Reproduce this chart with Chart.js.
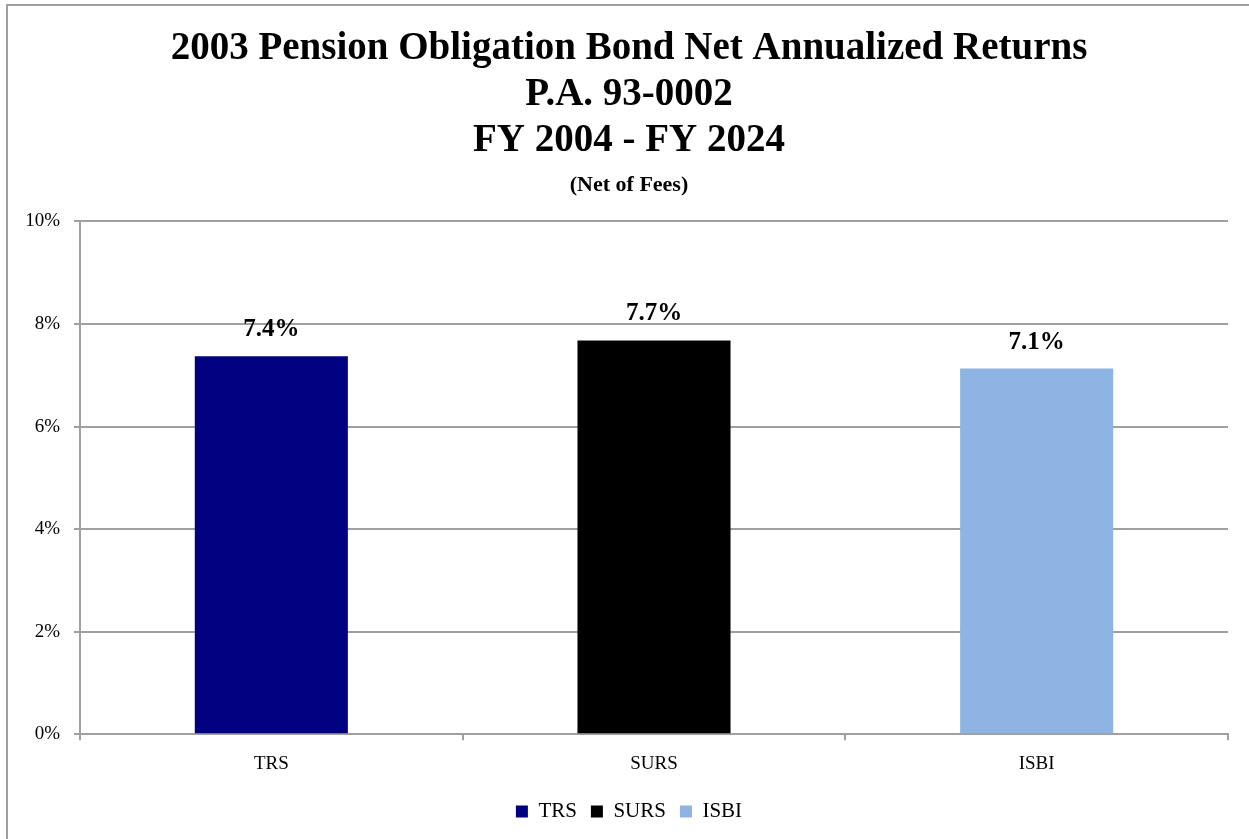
<!DOCTYPE html>
<html>
<head>
<meta charset="utf-8">
<script src="https://cdn.jsdelivr.net/npm/chart.js@4.4.1/dist/chart.umd.min.js"></script>
<style>
  html, body { margin: 0; padding: 0; background: #fff; overflow: hidden; }
  #frame { position: absolute; left: 6px; top: 4px; width: 1300px; height: 900px; border: 2px solid #a0a0a0; }
  #wrap { position: absolute; left: 0; top: 0; width: 1249px; height: 839px; }
</style>
</head>
<body>
<div id="frame"></div>
<div id="wrap"><canvas id="pobChart"></canvas></div>
<script>
const categories = ["TRS", "SURS", "ISBI"];
const returnsPct = [7.37, 7.68, 7.13];
const valueLabels = ["7.4%", "7.7%", "7.1%"];
const barColors = ["#000080", "#000000", "#8db4e2"];
const titleLines = [
  "2003 Pension Obligation Bond Net Annualized Returns",
  "P.A. 93-0002",
  "FY 2004 - FY 2024"
];
const subtitleText = "(Net of Fees)";

const serif = "'Liberation Serif', 'Times New Roman', serif";

// value labels above the bars
const barLabels = {
  id: "barLabels",
  afterDatasetsDraw(chart) {
    const ctx = chart.ctx;
    const meta = chart.getDatasetMeta(0);
    ctx.save();
    ctx.font = "bold 25px " + serif;
    ctx.fillStyle = "#000";
    ctx.textAlign = "center";
    ctx.textBaseline = "alphabetic";
    meta.data.forEach((bar, i) => {
      ctx.fillText(valueLabels[i], bar.x, bar.y - 20);
    });
    ctx.restore();
  }
};

// let the y tick labels use the left padding instead of being clipped
const widenYLabels = {
  id: "widenYLabels",
  afterLayout(chart) {
    chart.scales.y.left = 0;
  }
};

new Chart(document.getElementById("pobChart"), {
  type: "bar",
  data: {
    labels: categories,
    datasets: [{
      label: "Return",
      data: returnsPct,
      backgroundColor: barColors,
      borderWidth: 0,
      barPercentage: 0.4,
      categoryPercentage: 1
    }]
  },
  options: {
    responsive: true,
    maintainAspectRatio: false,
    animation: false,
    layout: { padding: { left: 30, right: 21, top: 26, bottom: 7 } },
    plugins: {
      title: {
        display: true,
        text: titleLines,
        color: "#000",
        font: { family: serif, size: 39, weight: "bold", lineHeight: 1.18 },
        padding: { top: 0, bottom: 8 }
      },
      subtitle: {
        display: true,
        text: subtitleText,
        color: "#000",
        font: { family: serif, size: 22, weight: "bold" },
        padding: { top: 0, bottom: 23 }
      },
      legend: {
        position: "bottom",
        labels: {
          color: "#000",
          font: { family: serif, size: 21 },
          boxWidth: 12,
          boxHeight: 12,
          padding: 14,
          generateLabels: () => categories.map((c, i) => ({
            text: c,
            fillStyle: barColors[i],
            strokeStyle: barColors[i],
            lineWidth: 0,
            hidden: false,
            index: i
          }))
        }
      },
      tooltip: { enabled: false }
    },
    scales: {
      x: {
        grid: {
          offset: true,
          drawOnChartArea: false,
          color: "#a0a0a0",
          lineWidth: 2,
          tickLength: 6
        },
        border: { color: "#a0a0a0", width: 2 },
        ticks: { color: "#000", font: { family: serif, size: 19 }, padding: 12 }
      },
      y: {
        min: 0,
        max: 10,
        afterFit(scale) { scale.width = 50; },
        ticks: {
          stepSize: 2,
          color: "#000",
          font: { family: serif, size: 19 },
          padding: 14,
          callback: v => v + "%"
        },
        grid: { color: "#a0a0a0", lineWidth: 2, tickLength: 6 },
        border: { color: "#a0a0a0", width: 2 }
      }
    }
  },
  plugins: [barLabels, widenYLabels]
});
</script>
</body>
</html>
